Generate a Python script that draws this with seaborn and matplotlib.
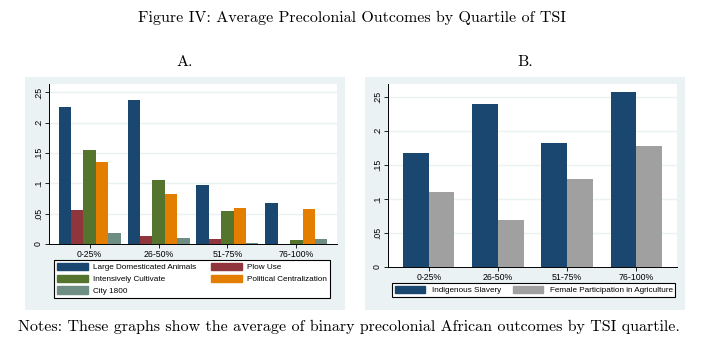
import matplotlib
matplotlib.use("Agg")
import matplotlib.pyplot as plt
import matplotlib.patches as mpatches
import seaborn as sns
import pandas as pd

# data
quartiles = ['0-25%', '26-50%', '51-75%', '76-100%']

large_animals = [0.226, 0.238, 0.098, 0.067]
plow_use = [0.056, 0.013, 0.009, 0.0]
intensive_cult = [0.155, 0.106, 0.055, 0.006]
political_cent = [0.135, 0.082, 0.060, 0.058]
city_1800 = [0.018, 0.010, 0.002, 0.008]

indigenous_slavery = [0.168, 0.240, 0.182, 0.257]
female_agri = [0.110, 0.069, 0.129, 0.177]

a_names = ['Large Domesticated Animals', 'Plow Use', 'Intensively Cultivate',
           'Political Centralization', 'City 1800']
a_colors = ['#1a476f', '#90353b', '#55752f', '#e37e00', '#6e8e84']
b_names = ['Indigenous Slavery', 'Female Participation in Agriculture']
b_colors = ['#1a476f', '#a0a0a0']

df_a = pd.DataFrame({
    'quartile': quartiles * 5,
    'outcome': [n for n in a_names for _ in quartiles],
    'value': large_animals + plow_use + intensive_cult + political_cent + city_1800,
})
df_b = pd.DataFrame({
    'quartile': quartiles * 2,
    'outcome': [n for n in b_names for _ in quartiles],
    'value': indigenous_slavery + female_agri,
})

W, H = 701, 351
fig = plt.figure(figsize=(W / 100, H / 100), dpi=100)
fig.patch.set_facecolor('white')


def box(x0, y0, x1, y1):
    # pixel box (top-left origin) -> figure fraction [l, b, w, h]
    return [x0 / W, 1 - y1 / H, (x1 - x0) / W, (y1 - y0) / H]


bg = '#eaf2f3'
for x0, x1 in [(25, 345), (365, 685)]:
    l, b, w, h = box(x0, 77, x1, 310)
    fig.add_artist(mpatches.Rectangle((l, b), w, h, transform=fig.transFigure,
                                      facecolor=bg, edgecolor='none', zorder=0))

serif = 'cmr10'
fig.text(352 / W, 1 - 18 / H, 'Figure IV: Average Precolonial Outcomes by Quartile of TSI',
         ha='center', va='center', fontsize=11.5, family=serif)
fig.text(185 / W, 1 - 62 / H, 'A.', ha='center', va='center', fontsize=11.5, family=serif)
fig.text(525 / W, 1 - 62 / H, 'B.', ha='center', va='center', fontsize=11.5, family=serif)
fig.text(18 / W, 1 - 327 / H,
         'Notes: These graphs show the average of binary precolonial African outcomes by TSI quartile.',
         ha='left', va='center', fontsize=11.5, family=serif)

sans = 'Liberation Sans'


def style_axes(ax, ytop):
    ax.set_xlim(-0.59, 3.59)
    ax.set_ylim(0, ytop)
    ax.set_facecolor('white')
    ticks = [0, 0.05, 0.1, 0.15, 0.2, 0.25]
    ax.set_yticks(ticks)
    ax.set_yticklabels(['0', '.05', '.1', '.15', '.2', '.25'], rotation=90,
                       va='center', fontsize=6.3, family=sans)
    for t in ticks[1:]:
        ax.axhline(t, color=bg, linewidth=1.0, zorder=0)
    ax.tick_params(axis='y', length=3, width=0.6, pad=1.5)
    ax.tick_params(axis='x', length=3, width=0.6, pad=1.5, labelsize=6.3)
    for lab in ax.get_xticklabels():
        lab.set_family(sans)
    for s in ['top', 'right']:
        ax.spines[s].set_visible(False)
    for s in ['left', 'bottom']:
        ax.spines[s].set_linewidth(0.7)
        ax.spines[s].set_color('black')
    ax.set_xlabel('')
    ax.set_ylabel('')
    if ax.legend_:
        ax.legend_.remove()


ax1 = fig.add_axes(box(49, 84, 337, 244))
sns.barplot(data=df_a, x='quartile', y='value', hue='outcome', order=quartiles,
            hue_order=a_names, palette=dict(zip(a_names, a_colors)), saturation=1,
            width=0.9, errorbar=None, linewidth=0, ax=ax1)
style_axes(ax1, 0.264)

ax2 = fig.add_axes(box(388, 84, 677, 267))
sns.barplot(data=df_b, x='quartile', y='value', hue='outcome', order=quartiles,
            hue_order=b_names, palette=dict(zip(b_names, b_colors)), saturation=1,
            width=0.74, errorbar=None, linewidth=0, ax=ax2)
style_axes(ax2, 0.2687)

# legend A: row-major in the picture, matplotlib fills columns first
patches_a = {n: mpatches.Patch(color=c, label=n) for n, c in zip(a_names, a_colors)}
order_a = ['Large Domesticated Animals', 'Intensively Cultivate', 'City 1800',
           'Plow Use', 'Political Centralization']
leg = fig.legend(handles=[patches_a[n] for n in order_a], ncol=2, loc='upper left',
                 bbox_to_anchor=(54 / W, 1 - 260 / H), frameon=True, fancybox=False,
                 framealpha=1, prop={'family': sans, 'size': 5.9}, handlelength=3.8,
                 handleheight=1.0, borderpad=0.35, borderaxespad=0, labelspacing=0.4,
                 columnspacing=1.8, handletextpad=0.6)
leg.get_frame().set_edgecolor('black')
leg.get_frame().set_linewidth(0.8)

handles_b = [mpatches.Patch(color=c, label=n) for n, c in zip(b_names, b_colors)]
leg = fig.legend(handles=handles_b, ncol=2, loc='upper left',
                 bbox_to_anchor=(392 / W, 1 - 283 / H), frameon=True, fancybox=False,
                 framealpha=1, prop={'family': sans, 'size': 5.9}, handlelength=3.65,
                 handleheight=1.0, borderpad=0.34, borderaxespad=0, columnspacing=1.45,
                 handletextpad=0.85)
leg.get_frame().set_edgecolor('black')
leg.get_frame().set_linewidth(0.8)

fig.savefig('out.png', dpi=100)
